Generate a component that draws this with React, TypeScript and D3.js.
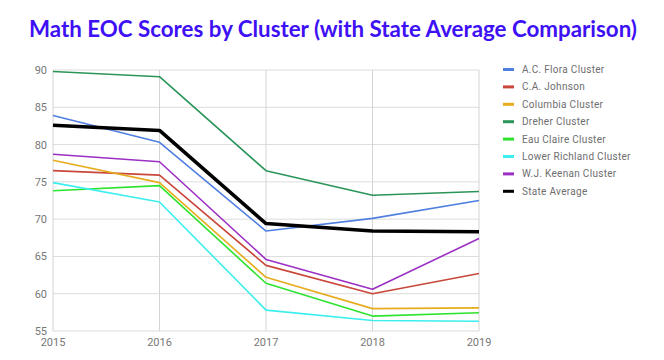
import React from "react";
import * as d3 from "d3";

const years = [2015, 2016, 2017, 2018, 2019];
const yTicks = [55, 60, 65, 70, 75, 80, 85, 90];
const seriesNames = [
  "A.C. Flora Cluster",
  "C.A. Johnson",
  "Columbia Cluster",
  "Dreher Cluster",
  "Eau Claire Cluster",
  "Lower Richland Cluster",
  "W.J. Keenan Cluster",
  "State Average",
];
const seriesColors = ["#4f7fe0", "#c9473b", "#e6ac1e", "#2a9558", "#2ee32e", "#3ceeee", "#9c2fc4", "#000000"];
const acFlora = [83.9, 80.3, 68.4, 70.1, 72.5];
const caJohnson = [76.5, 75.9, 63.8, 60.0, 62.7];
const columbia = [77.9, 74.9, 62.2, 58.0, 58.1];
const dreher = [89.8, 89.1, 76.5, 73.2, 73.7];
const eauClaire = [73.8, 74.5, 61.4, 57.0, 57.45];
const lowerRichland = [74.9, 72.3, 57.8, 56.4, 56.3];
const wjKeenan = [78.7, 77.7, 64.6, 60.6, 67.4];
const stateAvg = [82.6, 81.9, 69.4, 68.4, 68.3];
const seriesValues = [acFlora, caJohnson, columbia, dreher, eauClaire, lowerRichland, wjKeenan, stateAvg];

export default function App() {
  const W = 664, H = 360;
  const x = d3.scaleLinear().domain([2015, 2019]).range([53, 479]);
  const y = d3.scaleLinear().domain([55, 90]).range([331, 70]);
  const line = d3.line<number>().x((_, i) => x(years[i])).y((d) => y(d));
  const font = "Roboto, 'Noto Sans', sans-serif";
  return (
    <svg width={W} height={H} style={{ position: "absolute", left: 0, top: 0, background: "#fff" }}>
      <rect x={0} y={0} width={W} height={H} fill="#fff" />
      <text x={333} y={37} textAnchor="middle" fill="#3d10f5" fontFamily="Lato, 'Open Sans', sans-serif" fontWeight={700} fontSize={22} textLength={608} lengthAdjust="spacingAndGlyphs">
        Math EOC Scores by Cluster (with State Average Comparison)
      </text>
      {yTicks.map((t) => (
        <g key={t}>
          <line x1={x(2015)} x2={x(2019)} y1={y(t)} y2={y(t)} stroke="#dcdcdc" strokeWidth={1} />
          <text x={47} y={y(t) + 4} textAnchor="end" fontSize={11} fill="#777" fontFamily={font}>{t}</text>
        </g>
      ))}
      {years.map((yr) => (
        <g key={yr}>
          <line x1={x(yr)} x2={x(yr)} y1={y(90)} y2={y(55)} stroke="#d4d4d4" strokeWidth={1} />
          <text x={x(yr)} y={346} textAnchor="middle" fontSize={11} fill="#777" fontFamily={font}>{yr}</text>
        </g>
      ))}
      {seriesValues.map((vals, i) => (
        <path key={seriesNames[i]} d={line(vals) || ""} fill="none" stroke={seriesColors[i]} strokeWidth={i === 7 ? 3.5 : 1.6} strokeLinejoin="round" />
      ))}
      {seriesNames.map((n, i) => {
        const ly = 69.5 + i * 17.4;
        return (
          <g key={n}>
            <line x1={503} x2={514} y1={ly} y2={ly} stroke={seriesColors[i]} strokeWidth={3} />
            <text x={522} y={ly + 3.5} fontSize={10} letterSpacing={0.3} fill="#6e6e6e" fontFamily={font}>{n}</text>
          </g>
        );
      })}
    </svg>
  );
}
